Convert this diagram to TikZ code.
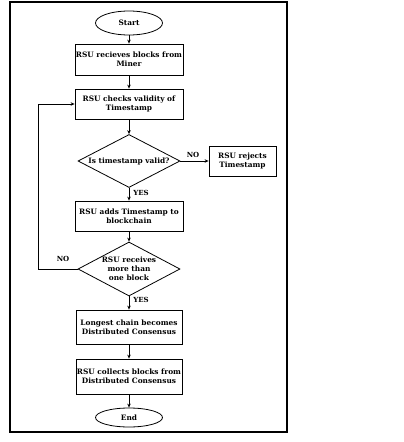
\documentclass[tikz,border=0pt]{standalone}
\usepackage{fontspec}
\setmainfont{DejaVu Serif}
\usetikzlibrary{shapes.geometric,arrows.meta}
\begin{document}
\begin{tikzpicture}[x=1pt,y=-1pt,
  every node/.style={font=\bfseries\fontsize{7.4}{9}\selectfont, inner sep=0pt},
  proc/.style={draw, line width=0.8pt, rectangle, align=center},
  term/.style={draw, line width=0.8pt, ellipse},
  arr/.style={draw, line width=0.8pt, -{Stealth[length=4pt,width=3.5pt]}},
  lbl/.style={font=\bfseries\fontsize{7}{8}\selectfont}]
\useasboundingbox (0,0) rectangle (404,442);
\draw[line width=2.2pt] (10,2) rectangle (287,432);
\node[term, minimum width=67pt, minimum height=24pt] (start) at (129,23) {Start};
\node[proc, minimum width=108pt, minimum height=31pt] (b1) at (129,59.5) {RSU recieves blocks from\\Miner};
\node[proc, minimum width=108pt, minimum height=30pt] (b2) at (129,104) {RSU checks validity of\\Timestamp};
\node[draw, line width=0.8pt, shape=diamond, minimum width=102pt, minimum height=53pt, inner sep=0pt] (d1) at (129,161) {};
\node at (129,161) {Is timestamp valid?};
\node[proc, minimum width=67pt, minimum height=30pt] (rej) at (242.5,161) {RSU rejects\\Timestamp};
\node[proc, minimum width=108pt, minimum height=30pt] (b3) at (129,216) {RSU adds Timestamp to\\blockchain};
\node[draw, line width=0.8pt, shape=diamond, minimum width=102pt, minimum height=54pt, inner sep=0pt] (d2) at (129,269) {};
\node[align=center] at (129,269) {RSU receives\\more than\\one block};
\node[proc, minimum width=106pt, minimum height=34pt] (b4) at (129,327) {Longest chain becomes\\Distributed Consensus};
\node[proc, minimum width=106pt, minimum height=35pt] (b5) at (129,376.5) {RSU collects blocks from\\Distributed Consensus};
\node[term, minimum width=67pt, minimum height=19pt] (end) at (129,417.5) {End};
\coordinate (c1) at (38,269);
\coordinate (c2) at (38,104);
\draw[arr] (start) -- (b1);
\draw[arr] (b1) -- (b2);
\draw[arr] (b2) -- (d1);
\draw[arr] (d1) -- (rej) node[lbl, pos=0.45, above=3pt] {NO};
\draw[arr] (d1) -- (b3) node[lbl, pos=0.4, right=4pt] {YES};
\draw[arr] (b3) -- (d2);
\draw[arr] (d2) -- (b4) node[lbl, pos=0.3, right=4pt] {YES};
\draw[arr] (b4) -- (b5);
\draw[arr] (b5) -- (end);
\draw[arr] (d2.west) -- (c1) -- (c2) -- (b2.west);
\node[lbl] at (63,259) {NO};
\end{tikzpicture}
\end{document}
